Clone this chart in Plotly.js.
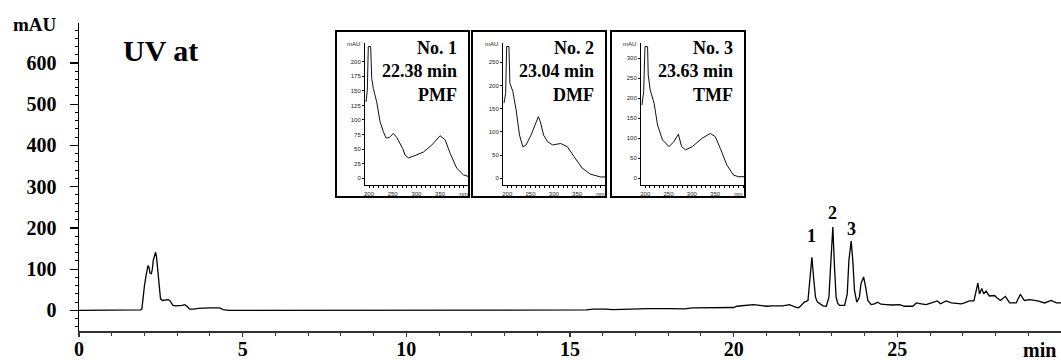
<!DOCTYPE html>
<html>
<head>
<meta charset="utf-8">
<script src="https://cdn.plot.ly/plotly-3.0.1.min.js"></script>
<style>html,body{margin:0;padding:0;background:#fff;}#chart{width:1061px;height:360px;}</style>
</head>
<body>
<div id="chart"></div>
<script>
// ---------- Chromatogram data ----------
const chromTime = [0,1.5,1.75,1.88,1.92,1.96,2.00,2.04,2.08,2.11,2.14,2.17,2.21,2.24,2.27,2.31,2.34,2.37,2.41,2.45,2.49,2.55,2.65,2.72,2.77,2.82,2.87,2.95,3.05,3.15,3.23,3.30,3.38,3.50,3.65,3.79,4.0,4.3,4.4,4.6,5.0,5.25,5.3,5.45,5.5,7.0,7.2,7.3,7.6,7.7,8.2,8.3,9.0,9.4,9.5,10.0,10.3,10.4,11.0,12.0,13.0,14.0,15.0,15.5,15.7,16.0,16.1,16.3,16.6,17.0,17.4,18.0,18.35,18.5,18.75,19.5,20.0,20.1,20.5,20.6,20.8,21.0,21.2,21.5,21.7,21.85,21.95,22.01,22.16,22.27,22.34,22.39,22.44,22.50,22.56,22.62,22.73,22.83,22.91,22.96,23.03,23.08,23.13,23.18,23.23,23.39,23.47,23.52,23.59,23.64,23.69,23.76,23.84,23.89,23.97,24.03,24.10,24.20,24.30,24.40,24.50,24.66,24.85,25.07,25.22,25.47,25.58,25.73,25.88,26.04,26.22,26.32,26.49,26.65,26.95,27.05,27.20,27.34,27.39,27.46,27.51,27.58,27.64,27.71,27.81,27.97,28.05,28.15,28.30,28.43,28.63,28.76,28.88,29.04,29.29,29.50,29.70,29.86,30.0];
const chromMAU  = [0,0,0.5,1,3,41,60,81,100,109,104,90,89,100,122,136,141,128,89,50,28,24,25,26,24,17,12,11,11,12,14,10,3,3,5,6,6,6,2,0,0,0,1.5,1.5,0,0,1,0.5,1.5,1,1,1.5,1,1.5,1,0.5,0,1,1,1,1,1,1,1,3,4,3,2,3,4,4.5,4.5,5,3.5,6,6.5,7,10,12,14,12,10,11,11,14,10,6,8,20,24,90,129,81,32,20,16,11,10,32,105,202,105,32,17,12,12,40,121,168,121,49,20,32,65,81,57,24,14,16,20,15,14,13,14,10,10,18,16,14,18,23,16,23,18,16,18,23,23,44,66,40,53,40,47,35,36,30,24,34,18,18,39,24,26,23,18,24,18,18];

const peakTimes  = [22.39, 23.03, 23.59];
const peakHeights = [129, 202, 168];
const peakLabels = ['1', '2', '3'];

const xTickVals = [0, 5, 10, 15, 20, 25];
const yTickVals = [0, 100, 200, 300, 400, 500, 600];

// ---------- UV spectra (insets) ----------
const spec1_nm  = [193.7,196.4,198.5,203.5,205.7,209.1,216.2,223.3,230.2,236,243,251.4,258.6,265.5,271.2,276,283,297.2,314.8,332.5,350,360.7,371.2,385.4,399.4,410];
const spec1_mau = [131,151,226,226,171,154,131,97,80,69,70,77,70,60,51,40,35,39,45,57,73,66,43,17,6,3];
const spec2_nm  = [193,196.6,198.7,203.6,205.7,212.1,219.1,226.4,233.4,240.4,251.1,258.3,266.8,271.1,278.1,286.6,297.2,314.9,329.1,343.4,361,378.7,400,412.8];
const spec2_mau = [162,183,284,284,205,187,147,93,68,72,93,111,133,122,93,79,72,75,68,47,22,9,3,3];
const spec3_nm  = [193,196.6,199.4,205,206.4,210.6,219.1,226.4,237,251.1,261.7,271.1,278.1,286.6,300.9,322.1,339.8,350.4,361,375.3,389.4,400,412.8];
const spec3_mau = [183,216,329,329,258,221,187,133,96,79,92,110,79,71,79,100,112,104,75,33,8,4,4];

const specNames = ['PMF', 'DMF', 'TMF'];
const specNo = ['No. 1', 'No. 2', 'No. 3'];
const specTimes = ['22.38 min', '23.04 min', '23.63 min'];
const specXTickVals = [200, 250, 300, 350, 400];
const specXTickText = ['200', '250', '300', '350', 'nm'];
const spec1YTicks = [0, 25, 50, 75, 100, 125, 150, 175, 200];
const spec2YTicks = [0, 50, 100, 150, 200, 250];
const spec3YTicks = [0, 50, 100, 150, 200, 250, 300];

// ---------- layout helpers (pixel -> paper) ----------
const L = 79, R = 1061, T = 23, B = 331;
const px = x => (x - L) / (R - L);
const py = y => (B - y) / (B - T);

const serifBold = {family: 'Liberation Serif, Times New Roman, serif', color: '#000', weight: 'bold'};

const traces = [
  {x: chromTime, y: chromMAU, type: 'scatter', mode: 'lines', line: {color: '#000', width: 1.3}, xaxis: 'x', yaxis: 'y', hoverinfo: 'skip'},
  {x: spec1_nm, y: spec1_mau, type: 'scatter', mode: 'lines', line: {color: '#111', width: 1}, xaxis: 'x2', yaxis: 'y2', hoverinfo: 'skip'},
  {x: spec2_nm, y: spec2_mau, type: 'scatter', mode: 'lines', line: {color: '#111', width: 1}, xaxis: 'x3', yaxis: 'y3', hoverinfo: 'skip'},
  {x: spec3_nm, y: spec3_mau, type: 'scatter', mode: 'lines', line: {color: '#111', width: 1}, xaxis: 'x4', yaxis: 'y4', hoverinfo: 'skip'}
];

const smallFont = {family: 'Liberation Sans, Arial, sans-serif', size: 6, color: '#222'};

function insetX(domain, range, anchor) {
  return {domain: domain, range: range, anchor: anchor, showline: true, linecolor: '#000', linewidth: 1,
    ticks: 'outside', ticklen: 2, tickwidth: 1, tickcolor: '#000', tickvals: specXTickVals, ticktext: specXTickText,
    tickfont: smallFont, ticklabelstandoff: 1, showgrid: false, zeroline: false, fixedrange: true,
    minor: {dtick: 10, ticks: 'outside', ticklen: 1.5, tickcolor: '#000'}};
}
function insetY(domain, range, anchor, ticks) {
  return {domain: domain, range: range, anchor: anchor, showline: true, linecolor: '#000', linewidth: 1,
    ticks: 'outside', ticklen: 2, tickwidth: 1, tickcolor: '#000', tickvals: ticks,
    tickfont: smallFont, ticklabelstandoff: 0, showgrid: false, zeroline: false, fixedrange: true};
}

const insetYDom = [py(185), py(43)];
const boxes = [[336, 469], [472, 606], [611, 745]];
const innerX = [[365, 468], [503, 605], [641, 744]];

const shapes = boxes.map(b => ({type: 'rect', xref: 'paper', yref: 'paper', x0: px(b[0]), x1: px(b[1]), y0: py(197), y1: py(31),
  line: {color: '#000', width: 2}, fillcolor: '#fff', layer: 'below'}));

const annotations = [
  {text: 'mAU', xref: 'paper', yref: 'paper', x: px(35), y: py(25), xanchor: 'center', yanchor: 'middle', showarrow: false, font: Object.assign({size: 19}, serifBold)},
  {text: 'min', xref: 'paper', yref: 'paper', x: px(1039), y: py(350), xanchor: 'center', yanchor: 'middle', showarrow: false, font: Object.assign({size: 20}, serifBold)},
  {text: 'UV at', xref: 'paper', yref: 'paper', x: px(121), y: py(50), xanchor: 'left', yanchor: 'middle', showarrow: false, font: Object.assign({size: 30}, serifBold)}
];
const labelShift = [9, 2, 0];
peakLabels.forEach((t, i) => annotations.push({text: t, x: peakTimes[i], y: peakHeights[i], xref: 'x', yref: 'y', xanchor: 'center', yanchor: 'bottom', yshift: labelShift[i], showarrow: false, font: Object.assign({size: 18}, serifBold)}));
boxes.forEach((b, i) => {
  annotations.push({text: specNo[i] + '<br>' + specTimes[i] + '<br>' + specNames[i], xref: 'paper', yref: 'paper', x: px(b[1] - 10), y: py(71.5), xanchor: 'right', yanchor: 'middle', align: 'right', showarrow: false, font: Object.assign({size: 18}, serifBold)});
  annotations.push({text: 'mAU', xref: 'paper', yref: 'paper', x: px(innerX[i][0] - 3), y: py(44), xanchor: 'right', yanchor: 'middle', showarrow: false, font: smallFont});
});

const layout = {
  width: 1061, height: 360,
  margin: {l: L, r: 1061 - R, t: T, b: 360 - B, pad: 0},
  paper_bgcolor: '#fff', plot_bgcolor: '#fff',
  showlegend: false,
  xaxis: {domain: [0, 1], range: [0, 30], anchor: 'y', showline: true, linecolor: '#333', linewidth: 1.5,
    ticks: 'outside', ticklen: 4, tickwidth: 1.5, tickcolor: '#333', tickvals: xTickVals,
    tickfont: Object.assign({size: 20}, serifBold), ticklabelstandoff: -5, showgrid: false, zeroline: false, fixedrange: true,
    minor: {dtick: 1, ticks: 'outside', ticklen: 3, tickwidth: 1, tickcolor: '#333'}},
  yaxis: {domain: [0, 1], range: [-50, 697], anchor: 'x', showline: true, linecolor: '#000', linewidth: 1.5,
    ticks: 'outside', ticklen: 8, tickwidth: 1.2, tickcolor: '#000', tickvals: yTickVals,
    tickfont: Object.assign({size: 20}, serifBold), ticklabelstandoff: 9, showgrid: false, zeroline: false, fixedrange: true,
    minor: {dtick: 20, ticks: 'outside', ticklen: 3, tickwidth: 1, tickcolor: '#000'}},
  xaxis2: insetX([px(innerX[0][0]), px(innerX[0][1])], [191.5, 409], 'y2'),
  yaxis2: insetY(insetYDom, [-11.5, 232], 'x2', spec1YTicks),
  xaxis3: insetX([px(innerX[1][0]), px(innerX[1][1])], [190.9, 410], 'y3'),
  yaxis3: insetY(insetYDom, [-14.4, 291.6], 'x3', spec2YTicks),
  xaxis4: insetX([px(innerX[2][0]), px(innerX[2][1])], [190.9, 412], 'y4'),
  yaxis4: insetY(insetYDom, [-16.75, 338], 'x4', spec3YTicks),
  shapes: shapes,
  annotations: annotations
};

Plotly.newPlot('chart', traces, layout, {staticPlot: true, displayModeBar: false});
</script>
</body>
</html>
